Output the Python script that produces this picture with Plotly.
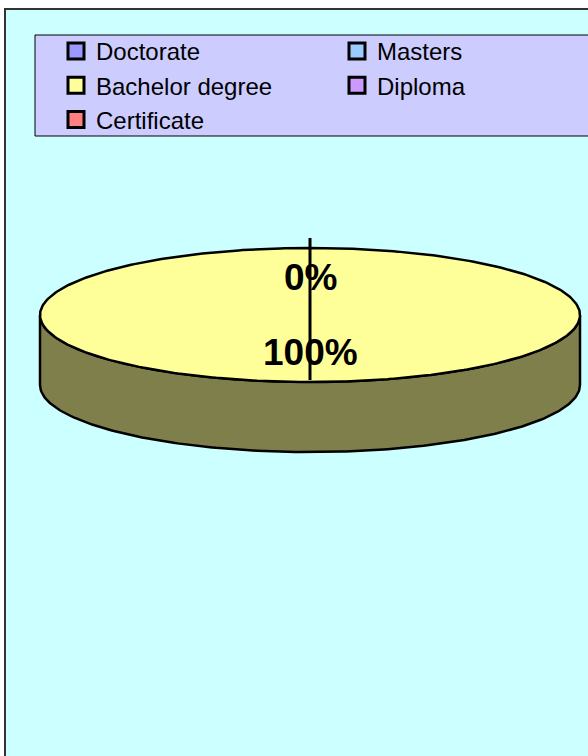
import numpy as np
import plotly.graph_objects as go

# ---- data ----
categories = ["Doctorate", "Masters", "Bachelor degree", "Diploma", "Certificate"]
values = [0, None, 100, None, None]
colors = ["#9999FF", "#99CCFF", "#FFFF99", "#CC99FF", "#FF8080"]
legend_column = ["legend", "legend2", "legend", "legend2", "legend"]

# ---- geometry / style (pixels; axes map 1:1 to pixels) ----
W, H = 588, 756
CX, CY, RX, RY, DEPTH = 310, 315, 270, 67, 70
LABEL_R = 0.56


def darken(hexc, f=0.5):
    h = hexc.lstrip("#")
    r, g, b = (int(h[i:i + 2], 16) for i in (0, 2, 4))
    return "#%02X%02X%02X" % (int(r * f), int(g * f), int(b * f))


def pt(theta_deg, dy=0.0):
    t = np.radians(theta_deg)
    return CX + RX * np.sin(t), CY - RY * np.cos(t) + dy


fig = go.Figure()

total = sum(v for v in values if v is not None)
start = 0.0
slices = []
for cat, v, c in zip(categories, values, colors):
    if v is None:
        continue
    a0 = start
    a1 = start + 360.0 * v / total
    slices.append((cat, v, c, a0, a1))
    start = a1

# side walls (front half only: 90..270 deg)
for cat, v, c, a0, a1 in slices:
    s0, s1 = max(a0, 90.0), min(a1, 270.0)
    if s1 <= s0:
        continue
    th = np.linspace(s0, s1, 200)
    xt, yt = pt(th)
    xb, yb = pt(th[::-1], DEPTH)
    xs = np.concatenate([xt, xb, xt[:1]])
    ys = np.concatenate([yt, yb, yt[:1]])
    fig.add_trace(go.Scatter(x=xs, y=ys, mode="lines", fill="toself",
                             fillcolor=darken(c), line=dict(color="black", width=2.5),
                             hoverinfo="skip", showlegend=False))

# top faces
for cat, v, c, a0, a1 in slices:
    if a1 <= a0:
        continue
    th = np.linspace(a0, a1, 400)
    xt, yt = pt(th)
    if a1 - a0 < 360:
        xt = np.concatenate([[CX], xt, [CX]])
        yt = np.concatenate([[CY], yt, [CY]])
    fig.add_trace(go.Scatter(x=xt, y=yt, mode="lines", fill="toself",
                             fillcolor=c, line=dict(color="black", width=2.5),
                             hoverinfo="skip", showlegend=False))

# slice boundary / leader line at the start angle
fig.add_trace(go.Scatter(x=[CX, CX], y=[CY - RY * 1.15, CY + RY * 0.97], mode="lines",
                         line=dict(color="black", width=3), hoverinfo="skip",
                         showlegend=False))

# percentage labels
for cat, v, c, a0, a1 in slices:
    mid = (a0 + a1) / 2.0
    lx = CX + LABEL_R * RX * np.sin(np.radians(mid))
    ly = CY - LABEL_R * RY * np.cos(np.radians(mid))
    fig.add_annotation(x=lx, y=ly, text="%d%%" % round(100.0 * v / total),
                       showarrow=False, xanchor="center", yanchor="middle",
                       font=dict(family="Liberation Sans", size=37, color="black",
                                 weight="bold"))

# legend entries (two columns -> two legends)
for cat, c, lg in zip(categories, colors, legend_column):
    fig.add_trace(go.Scatter(x=[None], y=[None], mode="markers", name=cat, legend=lg,
                             marker=dict(symbol="square", size=16, color=c,
                                         line=dict(color="black", width=3))))

# chart area and legend box
fig.add_shape(type="rect", xref="x", yref="y", x0=5, y0=9, x1=W + 40, y1=H + 40,
              fillcolor="#CCFFFF", line=dict(color="#333333", width=2), layer="below")
fig.add_shape(type="rect", xref="x", yref="y", x0=35, y0=35, x1=W + 40, y1=136,
              fillcolor="#CCCCFF", line=dict(color="black", width=1), layer="below")

legend_common = dict(orientation="v", xanchor="left", yanchor="top",
                     bgcolor="rgba(0,0,0,0)", borderwidth=0, itemsizing="trace",
                     tracegroupgap=0, traceorder="normal",
                     font=dict(family="Liberation Sans", size=24, color="black"))

fig.update_layout(
    width=W, height=H,
    margin=dict(l=0, r=0, t=0, b=0),
    paper_bgcolor="white", plot_bgcolor="rgba(0,0,0,0)",
    xaxis=dict(range=[0, W], visible=False, fixedrange=True),
    yaxis=dict(range=[H, 0], visible=False, fixedrange=True),
    showlegend=True,
    legend=dict(x=56 / W, y=1 - 29 / H, **legend_common),
    legend2=dict(x=337 / W, y=1 - 29 / H, **legend_common),
)

fig.write_html("out.html", config={"displayModeBar": False},
               post_script="document.body.style.margin='0';")
